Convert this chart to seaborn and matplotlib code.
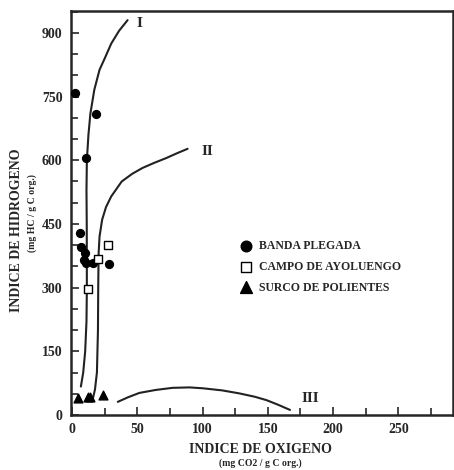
import numpy as np
import pandas as pd
import seaborn as sns
import matplotlib.pyplot as plt
from matplotlib.ticker import MultipleLocator

# datos (IO, IH)
banda_x = [2, 18, 11, 6, 7, 9.7, 9, 11, 16, 28.5]
banda_y = [759, 708, 605, 428, 395, 381, 365, 357, 357, 355]
campo_x = [27.7, 11.8, 20]
campo_y = [400, 296, 367]
surco_x = [4.6, 11.8, 13.8, 24]
surco_y = [39, 43, 43, 47]

# curvas de evolucion de kerogeno (tipos I, II, III)
curva1_x = [6.7, 8.5, 10, 11, 11.3, 11.2, 11, 11.3, 12.5, 14, 17, 21, 25, 30, 36, 42.5]
curva1_y = [67, 100, 150, 220, 300, 450, 530, 600, 660, 710, 766, 813, 840, 875, 905, 930]
curva2_x = [16, 17.5, 19, 19.8, 20, 20.3, 21, 23, 26, 30, 38, 46, 54, 63, 72, 80, 88.5]
curva2_y = [40, 60, 100, 200, 300, 380, 420, 460, 490, 515, 550, 568, 582, 594, 605, 616, 627]
curva3_x = [35, 43, 51.5, 64, 77, 90, 100, 115, 128, 140, 149, 158, 167]
curva3_y = [31, 42, 52, 59, 64, 65, 63, 58, 51, 43, 35, 24, 12]

df = pd.concat([
    pd.DataFrame({'io': banda_x, 'ih': banda_y, 'grupo': 'BANDA PLEGADA'}),
    pd.DataFrame({'io': campo_x, 'ih': campo_y, 'grupo': 'CAMPO DE AYOLUENGO'}),
    pd.DataFrame({'io': surco_x, 'ih': surco_y, 'grupo': 'SURCO DE POLIENTES'}),
])

sns.set_style('ticks')
plt.rcParams['font.family'] = ['Liberation Serif', 'DejaVu Serif']
plt.rcParams['font.weight'] = 'bold'

fig = plt.figure(figsize=(4.54, 4.70), dpi=100)
ax = fig.add_axes([0.156, 0.117, 0.842, 0.86])

for xs, ys in [(curva1_x, curva1_y), (curva2_x, curva2_y), (curva3_x, curva3_y)]:
    sns.lineplot(x=xs, y=ys, sort=False, estimator=None, color='#222222', lw=1.5, ax=ax)

estilos = {
    'BANDA PLEGADA': dict(marker='o', facecolor='black', s=32),
    'CAMPO DE AYOLUENGO': dict(marker='s', facecolor='white', s=30),
    'SURCO DE POLIENTES': dict(marker='^', facecolor='black', s=40),
}
for g, st in estilos.items():
    d = df[df['grupo'] == g]
    sns.scatterplot(data=d, x='io', y='ih', marker=st['marker'], s=st['s'],
                    color=st['facecolor'], edgecolor='black', linewidth=1.0,
                    label=g, ax=ax, zorder=3)

ax.text(49, 921, 'I', fontsize=11, fontweight='bold', va='center')
ax.text(99, 620, 'II', fontsize=11, fontweight='bold', va='center')
ax.text(176, 38, 'III', fontsize=11, fontweight='bold', va='center')

ax.set_xlim(-1, 292)
ax.set_ylim(0, 952)
ax.xaxis.set_major_locator(MultipleLocator(50))
ax.xaxis.set_minor_locator(MultipleLocator(25))
ax.yaxis.set_major_locator(MultipleLocator(150))
ax.yaxis.set_minor_locator(MultipleLocator(50))
ax.tick_params(which='both', direction='in', width=1.2, labelsize=10, pad=6)
ax.tick_params(which='major', length=6)
ax.tick_params(which='minor', length=5)
for lab in ax.get_xticklabels() + ax.get_yticklabels():
    lab.set_fontweight('bold')
for sp in ax.spines.values():
    sp.set_linewidth(1.8)

ax.set_xlabel('')
ax.set_ylabel('')
fig.text(0.573, 0.043, 'INDICE DE OXIGENO', ha='center', va='center', fontsize=10, fontweight='bold')
fig.text(0.573, 0.015, '(mg CO2 / g C org.)', ha='center', va='center', fontsize=7, fontweight='bold')
fig.text(0.037, 0.51, 'INDICE DE HIDROGENO', ha='center', va='center', rotation=90, fontsize=10, fontweight='bold')
fig.text(0.072, 0.547, '(mg HC / g C org.)', ha='center', va='center', rotation=90, fontsize=7, fontweight='bold')

leg = ax.legend(loc='upper left', bbox_to_anchor=(0.415, 0.445), frameon=False,
                fontsize=8.5, handletextpad=0.1, labelspacing=0.75, borderaxespad=0,
                markerscale=1.35)
for t in leg.get_texts():
    t.set_fontweight('bold')

fig.savefig('out.png', dpi=100)
